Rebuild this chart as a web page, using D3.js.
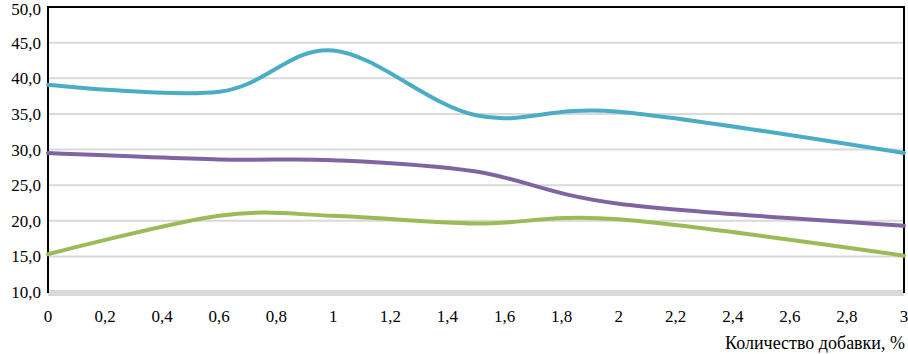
<!DOCTYPE html>
<html lang="ru">
<head>
<meta charset="UTF-8">
<title>Количество добавки</title>
<script src="https://d3js.org/d3.v7.min.js"></script>
<style>
    body { margin: 0; background: #fff; }
</style>
</head>
<body>
<svg id="chart" width="908" height="354"></svg>
<script>
    // additive amount, %
    const xValues = [0, 0.6, 1, 1.5, 2, 3];
    const seriesCyan = [39.1, 38.1, 43.9, 34.8, 35.3, 29.5];
    const seriesPurple = [29.5, 28.6, 28.5, 26.9, 22.4, 19.3];
    const seriesGreen = [15.3, 20.7, 20.7, 19.6, 20.2, 15.1];
    const xTicks = [0, 0.2, 0.4, 0.6, 0.8, 1, 1.2, 1.4, 1.6, 1.8, 2, 2.2, 2.4, 2.6, 2.8, 3];
    const yTicks = [10, 15, 20, 25, 30, 35, 40, 45, 50];
    const xTitle = "Количество добавки, %";

    const series = [
        { values: seriesCyan, color: "#4bacc6" },
        { values: seriesPurple, color: "#8064a2" },
        { values: seriesGreen, color: "#9bbb59" }
    ];

    const FONT = "'Liberation Serif', 'Times New Roman', 'DejaVu Serif', serif";

    const svg = d3.select("#chart").style("font-family", FONT);
    const x = d3.scaleLinear().domain([0, 3]).range([48, 904]);
    const y = d3.scaleLinear().domain([10, 50]).range([292, 7]);
    const fmt = v => d3.format(".1f")(v).replace(".", ",");
    const fmtX = v => String(v).replace(".", ",");

    // gridlines
    svg.append("g")
        .selectAll("line")
        .data(yTicks.filter(v => v > 10 && v < 50))
        .enter().append("line")
        .attr("x1", x(0)).attr("x2", x(3))
        .attr("y1", d => y(d)).attr("y2", d => y(d))
        .attr("stroke", "#d9d9d9")
        .attr("stroke-width", 2);

    // thick grey bottom axis line
    svg.append("line")
        .attr("x1", x(0)).attr("x2", x(3))
        .attr("y1", y(10) + 1).attr("y2", y(10) + 1)
        .attr("stroke", "#d9d9d9")
        .attr("stroke-width", 6);

    // black frame: top, left, right
    svg.append("path")
        .attr("d", `M${x(0)},${y(10) + 1}V${y(50)}H${x(3)}V${y(10) + 1}`)
        .attr("fill", "none")
        .attr("stroke", "#000")
        .attr("stroke-width", 2);

    // y tick labels (top one kept inside the picture)
    svg.append("g")
        .selectAll("text")
        .data(yTicks)
        .enter().append("text")
        .attr("x", 41)
        .attr("y", d => Math.max(y(d) + 6, 15))
        .attr("text-anchor", "end")
        .style("font-size", "17px")
        .text(fmt);

    // x tick labels
    svg.append("g")
        .selectAll("text")
        .data(xTicks)
        .enter().append("text")
        .attr("x", d => x(d))
        .attr("y", 322)
        .attr("text-anchor", "middle")
        .style("font-size", "17px")
        .text(fmtX);

    svg.append("text")
        .attr("x", 905)
        .attr("y", 349)
        .attr("text-anchor", "end")
        .style("font-size", "18px")
        .text(xTitle);

    // smoothed lines
    const line = d3.line()
        .x(d => x(d[0]))
        .y(d => y(d[1]))
        .curve(d3.curveCatmullRom.alpha(0));

    series.forEach(s => {
        svg.append("path")
            .datum(xValues.map((v, i) => [v, s.values[i]]))
            .attr("d", line)
            .attr("fill", "none")
            .attr("stroke", s.color)
            .attr("stroke-width", 4)
            .attr("stroke-linecap", "round");
    });
</script>
</body>
</html>
